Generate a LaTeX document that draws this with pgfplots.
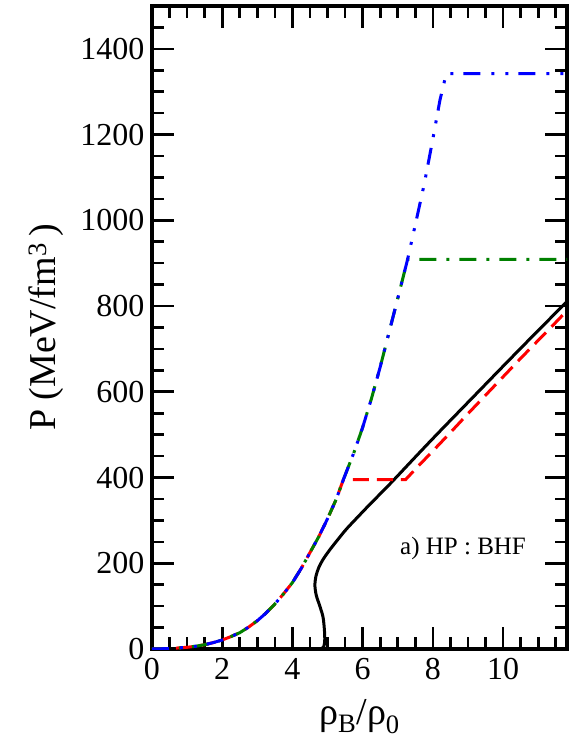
\documentclass[border=0pt]{standalone}
\usepackage{fontspec}
\setmainfont{Liberation Serif}
\usepackage{pgfplots}
\pgfplotsset{compat=1.18}

\definecolor{cred}{RGB}{255,0,0}
\definecolor{cgreen}{RGB}{0,128,0}
\definecolor{cblue}{RGB}{0,0,255}

\begin{document}
\begin{tikzpicture}
\begin{axis}[
    name=ax,
    scale only axis,
    width=415pt, height=643pt,
    xmin=0, xmax=11.82,
    ymin=0, ymax=1500,
    xtick={0,2,4,6,8,10},
    minor xtick={0.5,1,...,11.5},
    ytick={0,200,...,1400},
    minor ytick={50,100,...,1450},
    tick align=inside,
    major tick length=22pt,
    minor tick length=12pt,
    every tick/.style={black, line width=2.6pt},
    axis line style={line width=3.2pt},
    /pgf/number format/assume math mode=true,
    /pgf/number format/1000 sep={},
    tick label style={font=\fontsize{32}{32}\selectfont},
    xticklabel style={yshift=-6pt},
    yticklabel style={xshift=-4pt},
    xlabel={ρ\textsubscript{B}/ρ\textsubscript{0}},
    ylabel={P (MeV/fm\textsuperscript{3}\,)},
    label style={font=\fontsize{38}{38}\selectfont},
    xlabel style={yshift=-12pt},
    ylabel style={yshift=10pt},
    clip=true,
]
% black: full curve
\addplot[black, line width=3pt] coordinates {(0,0) (4.80,0)};
\addplot[black, line width=3pt, smooth, tension=0.5] coordinates {
    (4.80,0) (4.89,5) (4.92,20) (4.91,45) (4.87,75) (4.78,100) (4.68,125)
    (4.64,148) (4.67,170) (4.75,190) (4.88,210) (5.07,232) (5.3,256)
    (5.54,280) (5.85,307) (6.2,337) (6.55,366) (6.87,393) (7.64,460)
    (8.2,508) (9.15,588) (10.1,668) (11.0,743) (11.85,813)
};
% red dashed
\addplot[cred, line width=3pt, dash pattern=on 16pt off 8pt] coordinates {
    (0,0) (0.5,1) (1.0,4) (1.25,6.5) (1.5,10) (1.75,15) (2.0,21) (2.25,29)
    (2.5,38) (2.75,51) (3.0,66) (3.25,84) (3.5,105) (3.75,129) (4.0,155)
    (4.25,188) (4.5,225) (4.75,262) (5.0,304) (5.25,350) (5.45,395)
    (7.22,395) (7.6,428) (8.0,462) (8.5,505) (9.0,549) (9.5,592)
    (10.0,635) (10.5,678) (11.0,720) (11.5,762) (11.85,792)
};
% green dash-dot
\addplot[cgreen, line width=3pt, dash pattern=on 17pt off 10pt on 3pt off 10pt] coordinates {
    (0,0) (0.5,1) (1.0,4) (1.25,6.5) (1.5,10) (1.75,15) (2.0,21) (2.25,29)
    (2.5,38) (2.75,51) (3.0,66) (3.25,84) (3.5,105) (3.75,129) (4.0,155)
    (4.25,188) (4.5,225) (4.75,262) (5.0,304) (5.25,350) (5.45,395)
    (5.75,458) (6.0,517) (6.25,584) (6.5,658) (6.75,738) (7.0,818) (7.28,909)
    (11.85,909)
};
% blue dash-dot-dot
\addplot[cblue, line width=3pt, dash pattern=on 17pt off 11pt on 3pt off 11pt on 3pt off 10pt] coordinates {
    (0,0) (0.5,1) (1.0,4) (1.25,6.5) (1.5,10) (1.75,15) (2.0,21) (2.25,29)
    (2.5,38) (2.75,51) (3.0,66) (3.25,84) (3.5,105) (3.75,129) (4.0,155)
    (4.25,188) (4.5,225) (4.75,262) (5.0,304) (5.25,350) (5.45,395)
    (5.75,458) (6.0,517) (6.25,584) (6.5,658) (6.75,738) (7.0,818) (7.28,909)
    (7.5,990) (7.75,1083) (8.0,1190) (8.2,1280) (8.38,1342) (11.85,1342)
};
\node[font=\fontsize{25}{25}\selectfont] at (axis cs:8.86,234) {a) HP : BHF};
\end{axis}
\pgfresetboundingbox
\path ([shift={(-152pt,-89pt)}]ax.south west) rectangle ([shift={(2pt,6pt)}]ax.north east);
\end{tikzpicture}
\end{document}
